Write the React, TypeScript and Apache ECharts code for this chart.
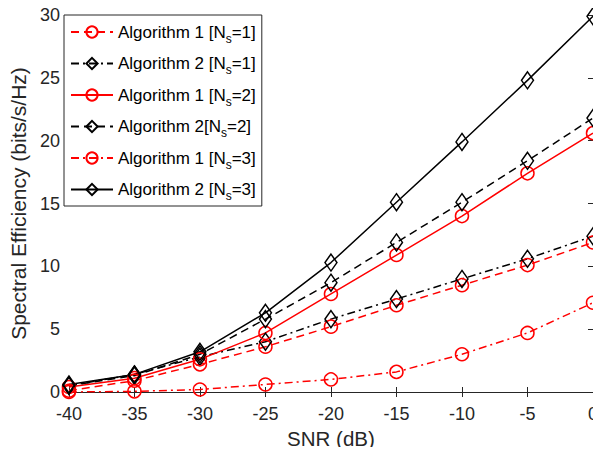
import React, { useEffect, useRef } from "react";
import * as echarts from "echarts";

const snr = [-40, -35, -30, -25, -20, -15, -10, -5, 0];
const alg1Ns1 = [0.1, 0.9, 2.2, 3.6, 5.2, 6.9, 8.5, 10.1, 11.9];
const alg2Ns1 = [0.5, 1.4, 2.8, 4.0, 5.8, 7.4, 9.0, 10.6, 12.4];
const alg1Ns2 = [0.4, 1.1, 2.6, 4.7, 7.8, 10.9, 14.0, 17.4, 20.6];
const alg2Ns2 = [0.5, 1.3, 3.0, 5.8, 8.7, 11.9, 15.1, 18.4, 21.8];
const alg1Ns3 = [0.0, 0.05, 0.2, 0.6, 1.0, 1.6, 3.0, 4.7, 7.1];
const alg2Ns3 = [0.6, 1.4, 3.2, 6.3, 10.3, 15.1, 19.9, 24.8, 29.9];

const names = [
  "Algorithm 1 [Ns=1]",
  "Algorithm 2 [Ns=1]",
  "Algorithm 1 [Ns=2]",
  "Algorithm 2[Ns=2]",
  "Algorithm 1 [Ns=3]",
  "Algorithm 2 [Ns=3]",
];

const FONT = "Liberation Sans";
const AX = "#262626";

export default function App() {
  const ref = useRef<HTMLDivElement>(null);
  useEffect(() => {
    if (!ref.current) return;
    const chart = echarts.init(ref.current, undefined, { renderer: "svg" });
    const dash = [8, 5];
    const dashDot = [8, 4, 2, 4];
    const mk = (
      name: string,
      vals: number[],
      color: string,
      type: any,
      symbol: string,
      size: any
    ) => ({
      name,
      type: "line",
      data: snr.map((x, i) => [x, vals[i]]),
      symbol,
      symbolSize: size,
      showAllSymbol: true,
      lineStyle: { color, width: 1.5, type },
      itemStyle: { color: "rgba(255,255,255,0)", borderColor: color, borderWidth: 1.5 },
      emphasis: { disabled: true },
      z: 3,
    });
    const circ = 13;
    const diam = [12, 17];
    chart.setOption({
      animation: false,
      textStyle: { fontFamily: FONT },
      grid: { left: 64, right: 5, top: 15, bottom: 63 },
      legend: {
        orient: "vertical",
        left: 64,
        top: 15,
        padding: [8.5, 6, 4, 6],
        itemGap: 10.5,
        itemWidth: 42,
        itemHeight: 14,
        backgroundColor: "#fff",
        borderColor: "#262626",
        borderWidth: 1,
        borderRadius: 0,
        data: names,
        textStyle: {
          fontFamily: FONT,
          fontSize: 17,
          color: "#000",
          rich: {
            t: { fontSize: 17, lineHeight: 25, fontFamily: FONT, color: "#000" },
            s: { fontSize: 12, lineHeight: 12, fontFamily: FONT, color: "#000", verticalAlign: "bottom" },
          },
        },
        formatter: (n: string) => {
          const m = n.split("Ns");
          return "{t|" + m[0] + "N}{s|s}{t|" + m[1] + "}";
        },
      },
      xAxis: [
        {
          type: "value",
          min: -40,
          max: 0,
          interval: 5,
          name: "SNR (dB)",
          nameLocation: "middle",
          nameGap: 35,
          nameTextStyle: { fontSize: 20.5, color: AX, fontFamily: FONT },
          axisLine: { lineStyle: { color: AX } },
          axisTick: { inside: true, length: 5, lineStyle: { color: AX } },
          axisLabel: { fontSize: 18, color: AX, margin: 13, fontFamily: FONT },
          splitLine: { show: false },
        },
        {
          type: "value",
          position: "top",
          min: -40,
          max: 0,
          interval: 5,
          axisLine: { show: true, lineStyle: { color: AX } },
          axisTick: { inside: true, length: 5, lineStyle: { color: AX } },
          axisLabel: { show: false },
          splitLine: { show: false },
        },
      ],
      yAxis: [
        {
          type: "value",
          min: 0,
          max: 30,
          interval: 5,
          name: "Spectral Efficiency (bits/s/Hz)",
          nameLocation: "middle",
          nameGap: 35,
          nameTextStyle: { fontSize: 21, color: AX, fontFamily: FONT },
          axisLine: { show: true, lineStyle: { color: AX } },
          axisTick: { inside: true, length: 5, lineStyle: { color: AX } },
          axisLabel: { fontSize: 18, color: AX, margin: 9, fontFamily: FONT },
          splitLine: { show: false },
        },
        {
          type: "value",
          position: "right",
          min: 0,
          max: 30,
          interval: 5,
          axisLine: { show: true, lineStyle: { color: AX } },
          axisTick: { inside: true, length: 5, lineStyle: { color: AX } },
          axisLabel: { show: false },
          splitLine: { show: false },
        },
      ],
      series: [
        mk(names[0], alg1Ns1, "#ff0000", dash, "circle", circ),
        mk(names[1], alg2Ns1, "#000000", dashDot, "diamond", diam),
        mk(names[2], alg1Ns2, "#ff0000", "solid", "circle", circ),
        mk(names[3], alg2Ns2, "#000000", dash, "diamond", diam),
        mk(names[4], alg1Ns3, "#ff0000", dashDot, "circle", circ),
        mk(names[5], alg2Ns3, "#000000", "solid", "diamond", diam),
      ],
    });
    return () => chart.dispose();
  }, []);
  return (
    <div style={{ margin: -8, width: 601, height: 455, background: "#fff" }}>
      <div ref={ref} style={{ width: 601, height: 455 }} />
    </div>
  );
}
